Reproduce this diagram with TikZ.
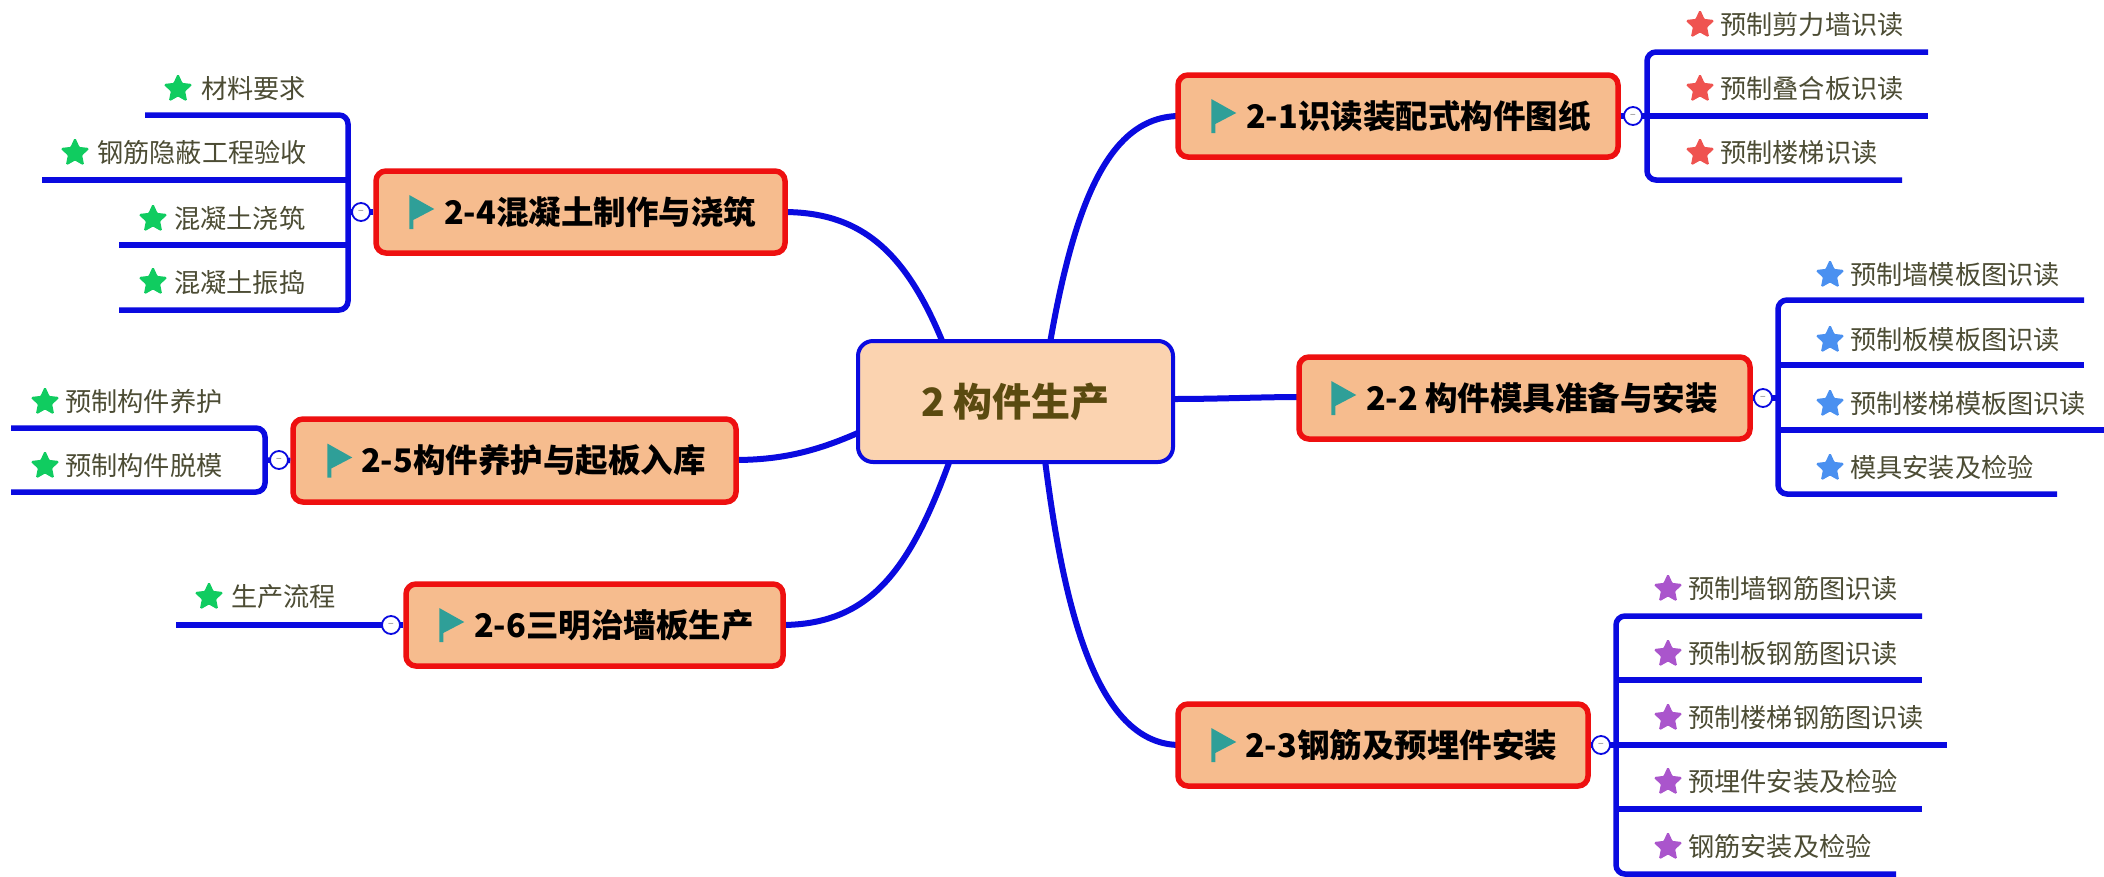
\documentclass[tikz,border=0pt]{standalone}
\usepackage{fontspec}
\setmainfont{Noto Sans CJK SC}
\usetikzlibrary{shapes.geometric,calc}
\definecolor{wire}{HTML}{0A0AE0}
\definecolor{boxred}{HTML}{EE1010}
\definecolor{boxfill}{HTML}{F6BC8E}
\definecolor{mainfill}{HTML}{FBD3B0}
\definecolor{maintext}{HTML}{5A4A10}
\definecolor{leaftext}{HTML}{4C4C34}
\definecolor{flagc}{HTML}{2F9F98}
\definecolor{sred}{HTML}{EF5350}
\definecolor{sblue}{HTML}{4A90F0}
\definecolor{spurple}{HTML}{AA55CC}
\definecolor{sgreen}{HTML}{10CC60}
\tikzset{
  wireline/.style={draw=wire,line width=6pt},
  thinwire/.style={draw=wire,line width=5.5pt},
  topicbox/.style={draw=boxred,fill=boxfill,line width=5.5pt,rounded corners=10pt,inner sep=0pt,
    font=\fontsize{32.5}{36}\selectfont\bfseries,text=black},
  mainbox/.style={draw=wire,fill=mainfill,line width=4pt,rounded corners=15pt,inner sep=0pt,
    font=\fontsize{39}{44}\selectfont\bfseries,text=maintext,minimum width=315pt,minimum height=121pt},
  leaflabel/.style={anchor=west,inner sep=0pt,font=\fontsize{26.2}{30}\selectfont,text=leaftext},
  leafstar/.style={star,star points=5,star point ratio=2.1,fill=#1,draw=#1,line width=1.5pt,rounded corners=1pt,
    inner sep=0pt,minimum size=28pt},
  fold/.style={circle,draw=wire,fill=white,line width=1.8pt,minimum size=18pt,inner sep=0pt,
    font=\fontsize{10}{10}\selectfont,text=gray},
}
% \topic{name}{x1}{y1}{x2}{y2}{text x}{flag x}{text}
\newcommand{\topic}[8]{%
  \pgfmathsetmacro{\tw}{#4-#2}\pgfmathsetmacro{\th}{#5-#3}\pgfmathsetmacro{\tcx}{(#2+#4)/2}%
  \pgfmathsetmacro{\tcy}{(#3+#5)/2}\pgfmathsetmacro{\toff}{#6-#2}\pgfmathsetmacro{\fx}{#7-#2+3}%
  \node[topicbox,minimum height=\th pt] (#1) at (\tcx,\tcy) {\makebox[\tw pt][l]{\hspace*{\toff pt}#8}};
  \fill[flagc] ([xshift=\fx pt,yshift=17pt]#1.west) -- ++(25pt,-14pt) -- ++(-21pt,-11pt) -- ++(0,-9pt) -- ++(-4pt,0) -- cycle;
}
% \leaf{name}{colour}{star x}{text x}{text y}{line end x}{line y}{text}
\newcommand{\leaf}[8]{%
  \node[leafstar=#2] (#1s) at (#3,#5) {};
  \node[leaflabel] (#1) at (#4,#5) {#8};
  \coordinate (#1e) at (#6,#7);
}
\begin{document}
\begin{tikzpicture}[x=1pt,y=-1pt]
\useasboundingbox (0,0) rectangle (2104,876);
\fill[white] (0,0) rectangle (2104,876);

\coordinate (m21) at (1050,343);
\coordinate (m22) at (1173,399);
\coordinate (m23) at (1045,460);
\coordinate (m24) at (943,343);
\coordinate (m25) at (860,432);
\coordinate (m26) at (950,460);

% connectors under boxes
\coordinate (a21) at (1180,116);
\coordinate (a22) at (1301,397);
\coordinate (a23) at (1180,745);
\coordinate (a24) at (783,212);
\coordinate (a25) at (734,460);
\coordinate (a26) at (781,625);
\draw[wireline] (m21) .. controls (1075,200) and (1110,116) .. (a21);
\draw[wireline] (m22) .. controls (1220,399) and (1260,397) .. (a22);
\draw[wireline] (m23) .. controls (1065,620) and (1100,745) .. (a23);
\draw[wireline] (m24) .. controls (905,250) and (860,212) .. (a24);
\draw[wireline] (m25) .. controls (815,452) and (780,460) .. (a25);
\draw[wireline] (m26) .. controls (910,570) and (870,625) .. (a26);

\node[mainbox] (main) at (1015.5,401.5) {2 构件生产};

\topic{t21}{1178}{75}{1618}{157}{1246}{1211}{2-1识读装配式构件图纸}
\topic{t22}{1299}{357}{1750}{439}{1366}{1331}{2-2 构件模具准备与安装}
\topic{t23}{1178}{704}{1588}{786}{1245}{1211}{2-3钢筋及预埋件安装}
\topic{t24}{376}{171}{785}{253}{444}{409}{2-4混凝土制作与浇筑}
\topic{t25}{293}{419}{736}{502}{361}{327}{2-5构件养护与起板入库}
\topic{t26}{406}{584}{783}{666}{474}{439}{2-6三明治墙板生产}

% 2-1
\leaf{a1}{sred}{1700}{1720}{25}{1928}{52}{预制剪力墙识读}
\leaf{a2}{sred}{1700}{1720}{89}{1928}{116}{预制叠合板识读}
\leaf{a3}{sred}{1700}{1720}{153}{1902}{180}{预制楼梯识读}
\coordinate (s21) at (1647,116);
\draw[thinwire,rounded corners=9pt] (a1e) -- (s21 |- a1e) -- (s21 |- a3e) -- (a3e);
\draw[thinwire] (t21.east) -- (a2e);
\node[fold] (c21) at (1633,116) {−};

% 2-2
\leaf{b1}{sblue}{1830}{1850}{275}{2084}{300}{预制墙模板图识读}
\leaf{b2}{sblue}{1830}{1850}{340}{2084}{365}{预制板模板图识读}
\leaf{b3}{sblue}{1830}{1850}{404}{2104}{430}{预制楼梯模板图识读}
\leaf{b4}{sblue}{1830}{1850}{468}{2057}{494}{模具安装及检验}
\coordinate (s22) at (1778,398);
\draw[thinwire,rounded corners=9pt] (b1e) -- (s22 |- b1e) -- (s22 |- b4e) -- (b4e);
\draw[thinwire] (t22.east) -- (s22);
\draw[thinwire] (s22 |- b2e) -- (b2e);
\draw[thinwire] (s22 |- b3e) -- (b3e);
\node[fold] (c22) at (1763,398) {−};

% 2-3
\leaf{d1}{spurple}{1668}{1688}{589}{1922}{616}{预制墙钢筋图识读}
\leaf{d2}{spurple}{1668}{1688}{654}{1922}{680}{预制板钢筋图识读}
\leaf{d3}{spurple}{1668}{1688}{718}{1947}{745}{预制楼梯钢筋图识读}
\leaf{d4}{spurple}{1668}{1688}{782}{1922}{809}{预埋件安装及检验}
\leaf{d5}{spurple}{1668}{1688}{847}{1896}{874}{钢筋安装及检验}
\coordinate (s23) at (1616,745);
\draw[thinwire,rounded corners=9pt] (d1e) -- (s23 |- d1e) -- (s23 |- d5e) -- (d5e);
\draw[thinwire] (t23.east) -- (d3e);
\draw[thinwire] (s23 |- d2e) -- (d2e);
\draw[thinwire] (s23 |- d4e) -- (d4e);
\node[fold] (c23) at (1601,745) {−};

% 2-4
\leaf{e1}{sgreen}{178}{201}{89}{145}{115}{材料要求}
\leaf{e2}{sgreen}{75}{97}{153}{42}{180}{钢筋隐蔽工程验收}
\leaf{e3}{sgreen}{153}{174}{219}{119}{245}{混凝土浇筑}
\leaf{e4}{sgreen}{153}{174}{282}{119}{310}{混凝土振捣}
\coordinate (s24) at (348,212);
\draw[thinwire,rounded corners=9pt] (e1e) -- (s24 |- e1e) -- (s24 |- e4e) -- (e4e);
\draw[thinwire] (t24.west) -- (s24);
\draw[thinwire] (s24 |- e2e) -- (e2e);
\draw[thinwire] (s24 |- e3e) -- (e3e);
\node[fold] (c24) at (361,212) {−};

% 2-5
\leaf{f1}{sgreen}{45}{65}{402}{11}{428}{预制构件养护}
\leaf{f2}{sgreen}{45}{65}{466}{11}{492}{预制构件脱模}
\coordinate (s25) at (265,460);
\draw[thinwire,rounded corners=9pt] (f1e) -- (s25 |- f1e) -- (s25 |- f2e) -- (f2e);
\draw[thinwire] (t25.west) -- (s25);
\node[fold] (c25) at (279,460) {−};

% 2-6
\leaf{g1}{sgreen}{209}{231}{597}{176}{625}{生产流程}
\draw[thinwire] (t26.west) -- (g1e);
\node[fold] (c26) at (391,625) {−};
\end{tikzpicture}
\end{document}
